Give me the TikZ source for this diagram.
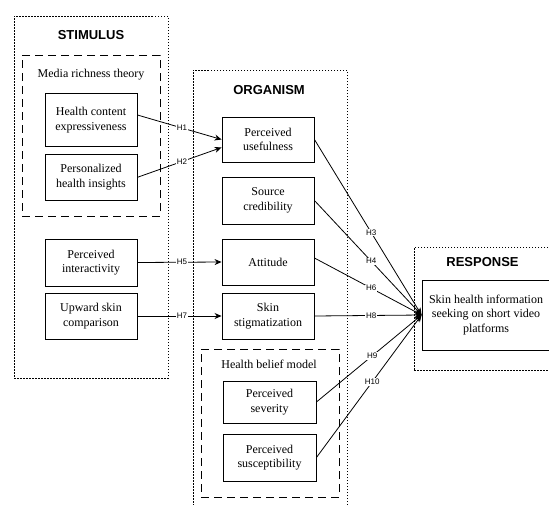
\documentclass[tikz,border=0pt]{standalone}
\usepackage{fontspec}
\setmainfont{Liberation Serif}
\setsansfont{Liberation Sans}
\usepackage{tikz}
\usetikzlibrary{arrows.meta, positioning}

\begin{document}
\begin{tikzpicture}[
    x=1pt, y=-1pt,
    construct/.style={draw, line width=0.9pt, align=center, minimum width=92pt, minimum height=46pt, inner sep=2pt, font=\fontsize{12}{14.5}\selectfont, fill=white},
    frame/.style={draw, line width=0.8pt, dash pattern=on 1.5pt off 1.5pt, inner sep=0pt},
    group/.style={draw, line width=0.9pt, dash pattern=on 8pt off 5pt, inner sep=0pt},
    heading/.style={font=\sffamily\bfseries\fontsize{13}{15}\selectfont},
    caption/.style={font=\fontsize{12}{14.5}\selectfont},
    arrow/.style={-{Stealth[length=7pt, width=6pt]}, line width=0.8pt},
    hyp/.style={font=\sffamily\fontsize{8}{9}\selectfont, fill=white, inner sep=0.8pt, pos=0.53}
]
\useasboundingbox (0,0) rectangle (549,504);
\clip (0,0) rectangle (549,504);

\node[frame, minimum width=154pt, minimum height=362pt] (stimulus) at (91,197) {};
\node[frame, minimum width=154pt, minimum height=440pt] (organism) at (270,290) {};
\node[frame, minimum width=142pt, minimum height=123pt] (response) at (485,308.5) {};
\node[heading] (stimtitle) at (91,35) {STIMULUS};
\node[heading] (orgtitle) at (269,90) {ORGANISM};
\node[heading] (resptitle) at (482.5,262) {RESPONSE};

\node[group, minimum width=138pt, minimum height=161pt] (mrt) at (91,135.5) {};
\node[caption] (mrtlabel) at (91,75) {Media richness theory};
\node[group, minimum width=138pt, minimum height=148pt] (hbm) at (270,423) {};
\node[caption] (hbmlabel) at (269,364) {Health belief model};

\node[construct, minimum height=53pt] (hce) at (91,120) {Health content\\expressiveness};
\node[construct] (phi) at (91,177.3) {Personalized\\health insights};
\node[construct, minimum height=47pt] (pint) at (91,262.5) {Perceived\\interactivity};
\node[construct] (usc) at (91,316) {Upward skin\\comparison};

\node[construct, minimum height=45pt] (pu) at (268,139.5) {Perceived\\usefulness};
\node[construct, minimum height=47pt] (sc) at (268,200.5) {Source\\credibility};
\node[construct] (att) at (268,262) {Attitude};
\node[construct] (stig) at (268,316) {Skin\\stigmatization};
\node[construct, minimum width=93pt, minimum height=42pt] (sev) at (269.5,402) {Perceived\\severity};
\node[construct, minimum width=93pt, minimum height=47pt] (sus) at (269.5,457.5) {Perceived\\susceptibility};

\node[construct, minimum width=128pt, minimum height=70pt] (seek) at (486,315) {Skin health information\\seeking on short video\\platforms};

\draw[arrow] ([yshift=5pt]hce.east) -- node[hyp]{H1} (pu.west);
\draw[arrow] (phi.east) -- node[hyp]{H2} ([yshift=-8pt]pu.west);
\draw[arrow] (pint.east) -- node[hyp]{H5} (att.west);
\draw[arrow] (usc.east) -- node[hyp]{H7} (stig.west);
\draw[arrow] (pu.east) -- node[hyp]{H3} (seek.west);
\draw[arrow] (sc.east) -- node[hyp]{H4} (seek.west);
\draw[arrow] ([yshift=4pt]att.east) -- node[hyp]{H6} (seek.west);
\draw[arrow] (stig.east) -- node[hyp]{H8} (seek.west);
\draw[arrow] (sev.east) -- node[hyp]{H9} (seek.west);
\draw[arrow] (sus.east) -- node[hyp]{H10} (seek.west);
\end{tikzpicture}
\end{document}
